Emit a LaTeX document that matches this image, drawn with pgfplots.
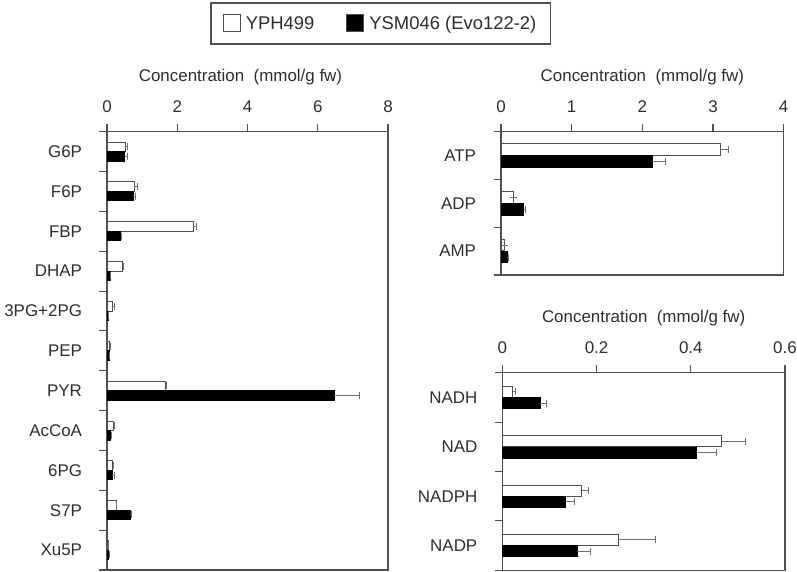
\documentclass[border=0pt]{standalone}
\usepackage{pgfplots}
\pgfplotsset{compat=1.18}
\usepackage{fontspec}
\setmainfont{Liberation Sans}
\definecolor{txt}{HTML}{2E2E2E}
\definecolor{ax}{HTML}{505050}
\definecolor{eb}{HTML}{707070}

\pgfplotstableread{
y  w     we     b     be
10 0.54  0.03   0.50  0.07
9  0.78  0.08   0.75  0.07
8  2.46  0.08   0.39  0.02
7  0.45  0.02   0.09  0.02
6  0.15  0.07   0.04  0.01
5  0.08  0.01   0.06  0.01
4  1.66  0.04   6.47  0.72
3  0.18  0.02   0.11  0.02
2  0.16  0.03   0.15  0.07
1  0.26  0.02   0.66  0.03
0  0.03  0.01   0.05  0.01
}\leftdata

\pgfplotstableread{
y  w     we     b     be
2  3.10  0.12   2.14  0.19
1  0.17  0.00   0.32  0.03
0  0.05  0.00   0.09  0.02
}\topdata

\pgfplotstableread{
y  w      we      b      be
3  0.022  0.005   0.081  0.012
2  0.466  0.051   0.413  0.041
1  0.169  0.014   0.135  0.018
0  0.246  0.079   0.159  0.028
}\botdata

\pgfplotsset{
  base/.style={
    scale only axis,
    /pgf/number format/assume math mode=true,
    font=\fontsize{17}{19}\selectfont,
    text=txt,
    axis line style={ax, line width=1.1pt},
    every tick/.style={ax, line width=1.1pt},
    xbar,
    xmin=0,
    tick align=outside,
    major tick length=7.5bp,
    xtick pos=right, xticklabel pos=right,
    ytick pos=left,
    y tick label as interval,
    xticklabel style={yshift=8bp},
    yticklabel style={xshift=-14bp},
    xlabel={Concentration\ \ (mmol/g fw)},
    xlabel style={yshift=9bp},
    clip=false,
  },
  ebs/.style={
    error bars/x dir=plus, error bars/x explicit,
    error bars/error bar style={eb, line width=1pt},
    error bars/error mark options={eb, line width=1pt, mark size=3.5bp, rotate=90}},
  wbar/.style={fill=white, draw=ax, line width=1pt, ebs},
  bbar/.style={fill=black, draw=black, line width=1pt, ebs},
}

\begin{document}
\begin{tikzpicture}
\useasboundingbox (0,0) rectangle (797bp,572bp);

\begin{axis}[base,
  at={(107bp,2bp)}, anchor=south west,
  width=281bp, height=438.3bp,
  xmax=8, xtick={0,2,4,6,8},
  ymin=-0.5, ymax=10.5,
  ytick={-0.5,0.5,...,10.5},
  yticklabels={Xu5P,S7P,6PG,AcCoA,PYR,PEP,3PG+2PG,DHAP,FBP,F6P,G6P},
  xlabel style={xshift=-7bp},
  bar width=9.5bp,
  legend columns=2,
  legend style={at={(0.3665,1.2955)}, anchor=north west, draw=ax, line width=1.6pt,
    font=\fontsize{18.5}{20}\selectfont, text=txt,
    inner xsep=12bp, inner ysep=11bp,
    /tikz/every odd column/.append style={column sep=3bp},
    /tikz/every even column/.append style={column sep=30bp}},
  legend image code/.code={\draw[#1, line width=1pt, draw=ax] (0bp,-8.5bp) rectangle (17bp,8.5bp);},
]
\addplot[wbar, bar shift=4.75bp] table[x=w, y=y, x error=we] {\leftdata};
\addlegendentry{YPH499}
\addplot[bbar, bar shift=-4.75bp] table[x=b, y=y, x error=be] {\leftdata};
\addlegendentry{YSM046 (Evo122-2)\hspace{18bp}}
\end{axis}

\begin{axis}[base,
  at={(501bp,297bp)}, anchor=south west,
  width=282.7bp, height=143.3bp,
  xmax=4, xtick={0,1,2,3,4},
  ymin=-0.5, ymax=2.5,
  ytick={-0.5,0.5,...,2.5},
  yticklabels={AMP,ADP,ATP},
  bar width=11.5bp,
]
\addplot[wbar, bar shift=6bp] table[x=w, y=y, x error=we] {\topdata};
\addplot[bbar, bar shift=-6bp] table[x=b, y=y, x error=be] {\topdata};
\end{axis}

\begin{axis}[base,
  at={(502.3bp,1.7bp)}, anchor=south west,
  width=282.7bp, height=197.6bp,
  xmax=0.6, xtick={0,0.2,0.4,0.6},
  ymin=-0.5, ymax=3.5,
  ytick={-0.5,0.5,...,3.5},
  yticklabels={NADP,NADPH,NAD,NADH},
  bar width=11bp,
]
\addplot[wbar, bar shift=5.7bp] table[x=w, y=y, x error=we] {\botdata};
\addplot[bbar, bar shift=-5.7bp] table[x=b, y=y, x error=be] {\botdata};
\end{axis}
\end{tikzpicture}
\end{document}
